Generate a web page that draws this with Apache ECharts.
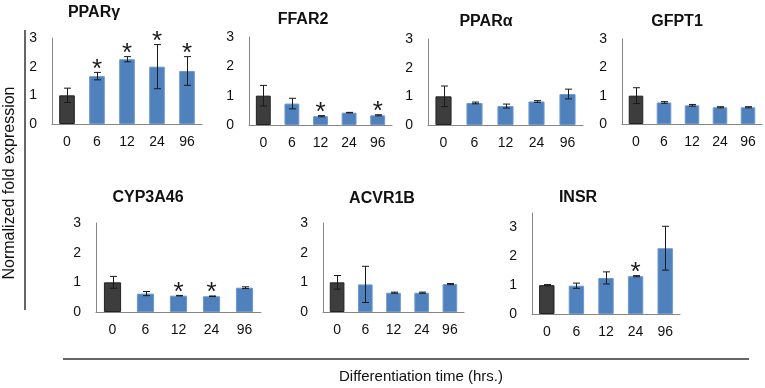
<!DOCTYPE html>
<html>
<head>
<meta charset="utf-8">
<script src="https://cdn.jsdelivr.net/npm/echarts@6/dist/echarts.min.js"></script>
<style>
  html, body { margin: 0; padding: 0; background: #fff; }
  #chart { width: 765px; height: 388px; }
</style>
</head>
<body>
<div id="chart"></div>
<script>
// time points (hrs.) shared by every panel
const timePoints = ['0', '6', '12', '24', '96'];
const genes = ['PPARγ', 'FFAR2', 'PPARα', 'GFPT1', 'CYP3A46', 'ACVR1B', 'INSR'];

// mean normalized fold expression per gene
const ppargMean = [1.0, 1.67, 2.26, 2.0, 1.85];
const ffar2Mean = [1.0, 0.73, 0.30, 0.42, 0.33];
const pparaMean = [1.0, 0.77, 0.66, 0.82, 1.08];
const gfpt1Mean = [1.0, 0.76, 0.66, 0.59, 0.59];
const cyp3a46Mean = [1.0, 0.62, 0.55, 0.53, 0.82];
const acvr1bMean = [1.0, 0.93, 0.65, 0.65, 0.94];
const insrMean = [1.0, 0.98, 1.25, 1.31, 2.28];

// error bar half-lengths
const ppargErr = [0.25, 0.13, 0.09, 0.77, 0.50];
const ffar2Err = [0.35, 0.18, 0.02, 0.01, 0.02];
const pparaErr = [0.36, 0.03, 0.07, 0.03, 0.17];
const gfpt1Err = [0.28, 0.03, 0.03, 0.02, 0.02];
const cyp3a46Err = [0.20, 0.07, 0.01, 0.01, 0.03];
const acvr1bErr = [0.23, 0.61, 0.02, 0.02, 0.02];
const insrErr = [0.02, 0.09, 0.21, 0.02, 0.76];

// significance marks (1 = asterisk)
const ppargSig = [0, 1, 1, 1, 1];
const ffar2Sig = [0, 0, 1, 0, 1];
const pparaSig = [0, 0, 0, 0, 0];
const gfpt1Sig = [0, 0, 0, 0, 0];
const cyp3a46Sig = [0, 0, 1, 1, 0];
const acvr1bSig = [0, 0, 0, 0, 0];
const insrSig = [0, 0, 0, 1, 0];

const yMax = [3, 3, 3, 3, 3, 3, 3.5];

const means = [ppargMean, ffar2Mean, pparaMean, gfpt1Mean, cyp3a46Mean, acvr1bMean, insrMean];
const errs = [ppargErr, ffar2Err, pparaErr, gfpt1Err, cyp3a46Err, acvr1bErr, insrErr];
const sigs = [ppargSig, ffar2Sig, pparaSig, gfpt1Sig, cyp3a46Sig, acvr1bSig, insrSig];

// panel layout: plot area box + title centre
const panels = [
  { left: 52, top: 38, width: 150, height: 86, tx: 94, ty: 13 },
  { left: 249, top: 37, width: 143, height: 88, tx: 303, ty: 20 },
  { left: 428, top: 39, width: 155, height: 86, tx: 486, ty: 22 },
  { left: 622, top: 39, width: 140, height: 85, tx: 677, ty: 22 },
  { left: 96, top: 223, width: 165, height: 89, tx: 148, ty: 198 },
  { left: 323, top: 223, width: 141, height: 89, tx: 382, ty: 199 },
  { left: 532, top: 213, width: 148, height: 101, tx: 578, ty: 198 }
];

const FONT = '"Liberation Sans", Arial, sans-serif';
const DARK = '#3d3d3d';
const BLUE = '#4f81bd';

function errorBarItem(params, api) {
  const x = api.value(0);
  const m = api.value(1);
  const e = api.value(2);
  const hi = api.coord([x, m + e]);
  const lo = api.coord([x, m - e]);
  const cx = Math.round(hi[0]) + 0.5;
  const cap = 3.5;
  const st = { stroke: '#1a1a1a', lineWidth: 1 };
  return {
    type: 'group',
    children: [
      { type: 'line', shape: { x1: cx, y1: hi[1], x2: cx, y2: lo[1] }, style: st },
      { type: 'line', shape: { x1: cx - cap, y1: hi[1], x2: cx + cap, y2: hi[1] }, style: st },
      { type: 'line', shape: { x1: cx - cap, y1: lo[1], x2: cx + cap, y2: lo[1] }, style: st }
    ]
  };
}

// asterisk sits just above the error bar top
function starItem(params, api) {
  const x = api.value(0);
  const top = api.value(1) + api.value(2);
  const p = api.coord([x, top]);
  return {
    type: 'text',
    style: {
      text: '*',
      x: p[0],
      y: p[1] - 3,
      font: '26px ' + FONT,
      fill: '#1a1a1a',
      align: 'center',
      verticalAlign: 'middle'
    }
  };
}

const grid = [], xAxis = [], yAxis = [], series = [], graphic = [];

panels.forEach((p, i) => {
  grid.push({ left: p.left, top: p.top, width: p.width, height: p.height });
  xAxis.push({
    type: 'category', gridIndex: i, data: timePoints,
    axisLine: { lineStyle: { color: '#868686', width: 1 } },
    axisTick: { show: false },
    axisLabel: { color: '#111', fontSize: 14, fontFamily: FONT, margin: 11 }
  });
  yAxis.push({
    type: 'value', gridIndex: i, min: 0, max: yMax[i], interval: 1,
    splitLine: { show: false },
    axisTick: { show: false },
    axisLine: { show: true, lineStyle: { color: '#868686', width: 1 } },
    axisLabel: {
      color: '#111', fontSize: 14, fontFamily: FONT, margin: 15,
      formatter: v => (v % 1 === 0 ? String(v) : '')
    }
  });
  series.push({
    type: 'bar', xAxisIndex: i, yAxisIndex: i, barWidth: '52%',
    data: means[i].map((v, j) => ({
      value: v,
      itemStyle: j === 0
        ? { color: DARK, borderColor: '#222', borderWidth: 1 }
        : { color: BLUE, borderColor: '#6d98cf', borderWidth: 1 }
    })),
    silent: true
  });
  series.push({
    type: 'custom', xAxisIndex: i, yAxisIndex: i, renderItem: errorBarItem,
    data: means[i].map((v, j) => [j, v, errs[i][j]]), z: 5, silent: true
  });
  series.push({
    type: 'custom', xAxisIndex: i, yAxisIndex: i, renderItem: starItem,
    data: means[i].map((v, j) => [j, v, errs[i][j]]).filter((d, j) => sigs[i][j]),
    z: 6, silent: true
  });
  // panel title
  graphic.push({
    type: 'text', x: p.tx, y: p.ty,
    style: {
      text: genes[i], font: 'bold 16px ' + FONT, fill: '#111',
      align: 'center', verticalAlign: 'middle'
    }
  });
});

// overall axis titles and bracket lines
graphic.push(
  { type: 'line', shape: { x1: 25, y1: 30, x2: 25, y2: 310 }, style: { stroke: '#333', lineWidth: 1.5 } },
  { type: 'line', shape: { x1: 63, y1: 359, x2: 749, y2: 359 }, style: { stroke: '#333', lineWidth: 1.5 } },
  {
    type: 'text', x: 10, y: 183, rotation: Math.PI / 2,
    style: {
      text: 'Normalized fold expression', font: '16px ' + FONT, fill: '#111',
      align: 'center', verticalAlign: 'middle'
    }
  },
  {
    type: 'text', x: 421, y: 377,
    style: {
      text: 'Differentiation time (hrs.)', font: '15px ' + FONT, fill: '#111',
      align: 'center', verticalAlign: 'middle'
    }
  }
);

const chart = echarts.init(document.getElementById('chart'));
chart.setOption({
  animation: false,
  backgroundColor: '#fff',
  grid, xAxis, yAxis, series, graphic
});
</script>
</body>
</html>
